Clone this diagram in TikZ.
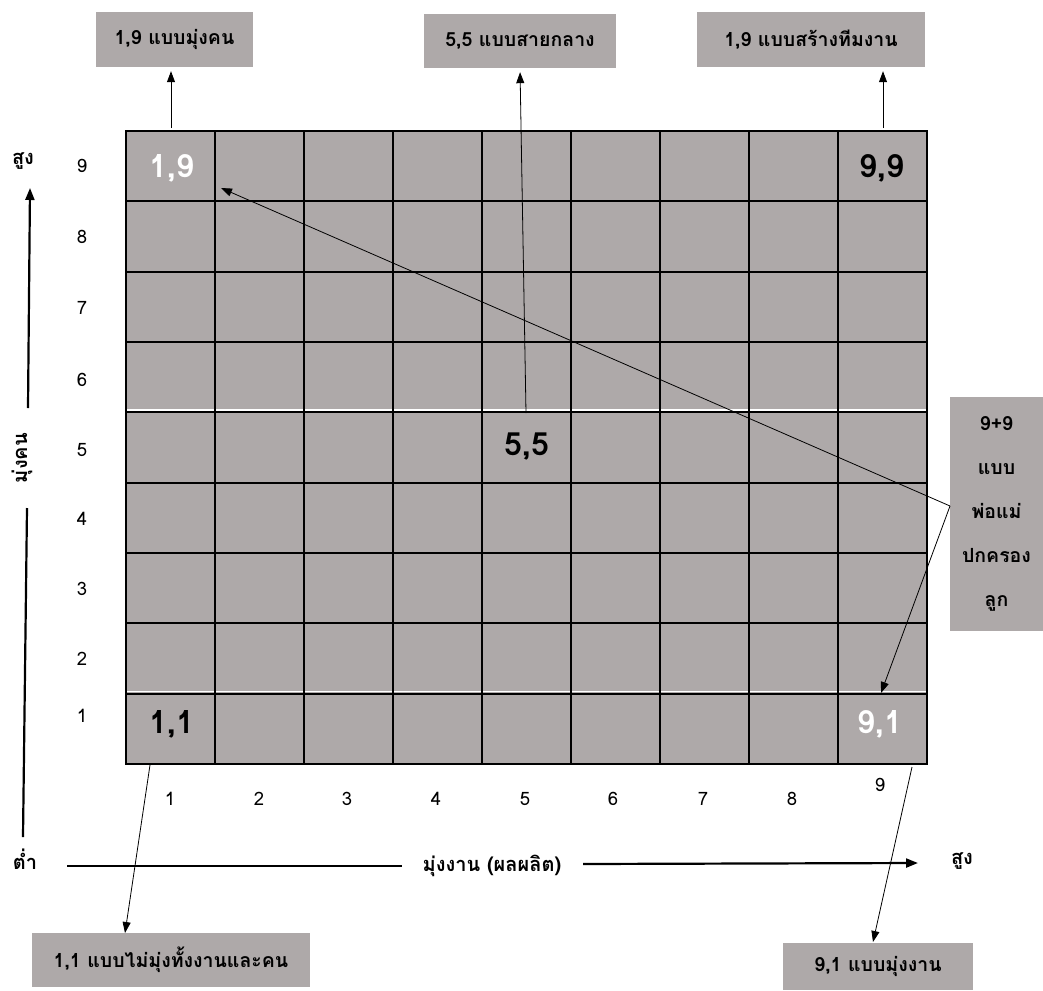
\documentclass[tikz,border=0pt]{standalone}
\usepackage{fontspec}
\setmainfont[Script=Thai]{Loma}
\usetikzlibrary{arrows.meta}
\definecolor{cellgray}{RGB}{174,169,169}
\begin{document}
\begin{tikzpicture}[x=1pt,y=-1pt,
  lbox/.style={fill=cellgray, font=\bfseries\fontsize{19.5}{22}\selectfont, inner sep=0pt, text=black},
  celltxt/.style={font=\bfseries\fontsize{32}{36}\selectfont, inner sep=0pt},
  num/.style={font=\fontsize{18.5}{21}\selectfont, inner sep=0pt},
  axlbl/.style={font=\bfseries\fontsize{20}{23}\selectfont, inner sep=0pt},
  conn/.style={line width=0.8pt, -{Triangle[length=11pt,width=8pt]}},
  axis/.style={line width=2.2pt},
  gridline/.style={line width=1.8pt},
]
\useasboundingbox (0,0) rectangle (1043,990);
% grid
\fill[cellgray] (126,131) rectangle (927,764);
\draw[white, line width=1.5pt] (126,410) -- (927,410);
\draw[white, line width=1.5pt] (126,691.5) -- (927,691.5);
\foreach \i in {1,...,8} \draw[gridline] ({126+89*\i},131) -- ({126+89*\i},764);
\foreach \j in {1,...,8} \draw[gridline] (126,{131+70.33*\j}) -- (927,{131+70.33*\j});
\draw[gridline] (126,131) rectangle (927,764);
% cell labels
\node[celltxt, text=white] (c19) at (172,168) {1,9};
\node[celltxt] (c99) at (882,168) {9,9};
\node[celltxt] (c55) at (527,447) {5,5};
\node[celltxt] (c11) at (172,724) {1,1};
\node[celltxt, text=white] (c91) at (880,724) {9,1};
% row / column numbers
\foreach \n/\y in {9/166,8/237,7/308,6/380,5/450,4/519,3/589,2/659,1/716}
  \node[num] (r\n) at (82,\y) {\n};
\foreach \n/\x in {1/170,2/259,3/347,4/436,5/525,6/613,7/703,8/792}
  \node[num] (k\n) at (\x,799) {\n};
\node[num] (k9) at (880,785) {9};
% label boxes
\node[lbox, minimum width=157pt, minimum height=55pt] (b19) at (174.5,39.5) {1,9 แบบมุ่งคน};
\node[lbox, minimum width=192pt, minimum height=54pt] (b55) at (520,41) {5,5 แบบสายกลาง};
\node[lbox, minimum width=228pt, minimum height=55pt] (b99) at (811,39.5) {1,9 แบบสร้างทีมงาน};
\node[lbox, minimum width=93pt, minimum height=234pt, align=center, font=\bfseries\fontsize{19.5}{44}\selectfont] (bpp) at (996.5,514) {9+9\\แบบ\\พ่อแม่\\ปกครอง\\ลูก};
\node[lbox, minimum width=278pt, minimum height=54pt] (b11) at (171,960) {1,1 แบบไม่มุ่งทั้งงานและคน};
\node[lbox, minimum width=190pt, minimum height=47pt] (b91) at (878,966.5) {9,1 แบบมุ่งงาน};
% connectors
\coordinate (s19) at (171,128);
\coordinate (s55) at (526,413);
\coordinate (s99) at (883,128);
\draw[conn, shorten >=4pt] (s19) -- (s19 |- b19.south);
\draw[conn, shorten >=4pt] (s55) -- (b55.south);
\draw[conn, shorten >=4pt] (s99) -- (s99 |- b99.south);
\coordinate (pv) at (950,506);
\coordinate (t19) at (221,188);
\coordinate (t91) at (881,693);
\draw[conn] (pv) -- (t19);
\draw[conn] (pv) -- (t91);
\coordinate (s11) at (150,765);
\coordinate (t11) at (125,933);
\draw[conn] (s11) -- (t11);
\coordinate (s91) at (912,767);
\coordinate (t91b) at (873,942);
\draw[conn] (s91) -- (t91b);
% vertical axis
\node[axlbl] (yhigh) at (23,161) {สูง};
\node[axlbl, rotate=90] (ylbl) at (22,458) {มุ่งคน};
\draw[axis, -{Triangle[length=12pt,width=9pt]}] (28,408) -- (30,188);
\draw[axis] (27,508) -- (23,837);
% horizontal axis
\node[axlbl] (xlow) at (25,859) {ต่ำ};
\node[axlbl] (xlbl) at (492,866) {มุ่งงาน (ผลผลิต)};
\node[axlbl] (xhigh) at (962,861) {สูง};
\draw[axis] (67,866) -- (402,866);
\draw[axis, -{Triangle[length=12pt,width=9pt]}] (583,864) -- (918,863);
\end{tikzpicture}
\end{document}
